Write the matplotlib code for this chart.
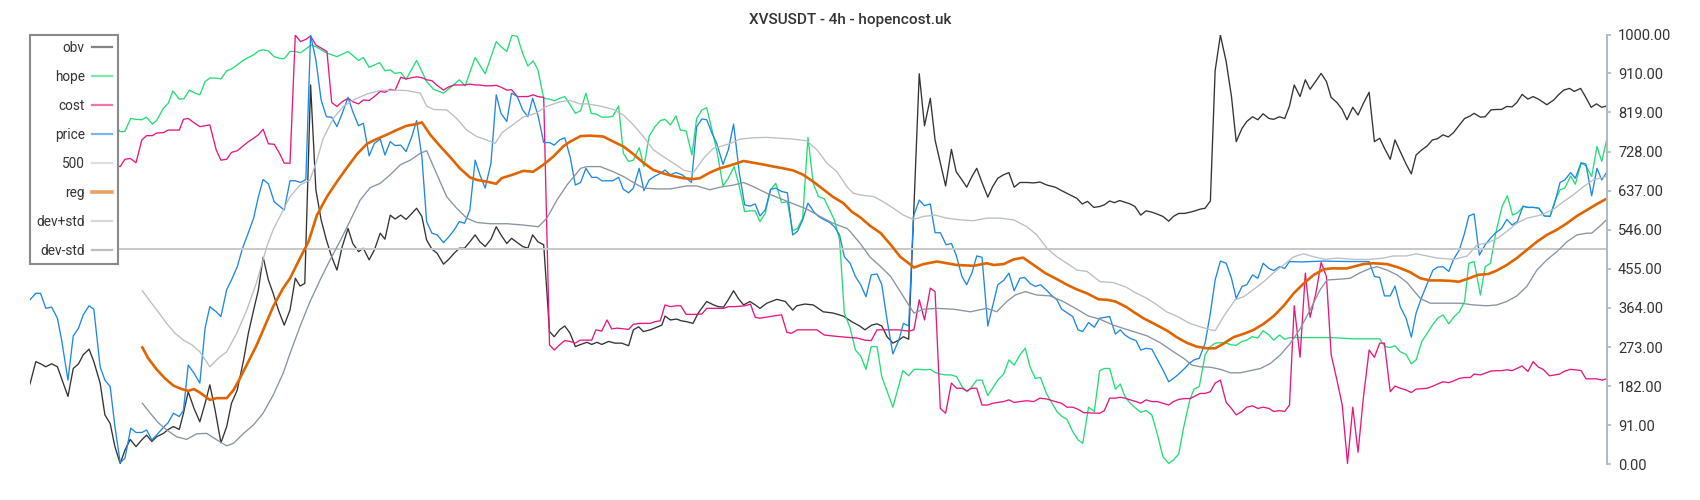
import numpy as np
import matplotlib
matplotlib.use("Agg")
import matplotlib.pyplot as plt

plt.rcParams['font.family'] = ['Roboto', 'DejaVu Sans']

title = 'XVSUSDT - 4h - hopencost.uk'
yticks = [0, 91, 182, 273, 364, 455, 546, 637, 728, 819, 910, 1000]
level = 500

# (bar, value), bar = 4h candle index
obv = [(0.0, 187), (1.1, 239), (2.0, 234), (3.0, 227), (4.1, 234), (5.2, 227), (7.2, 158), (8.2, 223), (9.2, 234),
       (10.1, 255), (11.2, 268), (12.1, 239), (13.3, 189), (14.2, 115), (15.2, 95), (16.1, 41), (17.1, 2), (18.0, 33),
       (19.0, 58), (20.1, 41), (21.2, 57), (22.1, 68), (23.1, 53), (24.0, 64), (25.3, 72), (26.2, 81), (27.2, 88),
       (28.3, 81), (29.1, 119), (30.0, 169), (31.1, 130), (32.2, 99), (33.2, 142), (34.1, 185), (35.1, 126), (36.2, 50),
       (37.3, 88), (38.2, 142), (39.3, 173), (40.5, 243), (41.4, 305), (42.4, 359), (43.3, 406), (44.2, 482), (45.2, 429),
       (46.1, 398), (47.1, 359), (48.2, 324), (49.3, 359), (50.3, 433), (51.2, 415), (52.1, 421), (53.2, 883), (54.2, 639),
       (55.2, 569), (56.2, 522), (57.2, 483), (58.2, 452), (59.2, 507), (60.3, 549), (61.2, 514), (62.3, 495), (63.2, 503),
       (64.3, 476), (65.3, 499), (66.4, 538), (67.3, 524), (68.3, 580), (69.2, 571), (70.3, 580), (71.3, 570), (72.4, 584),
       (73.3, 596), (74.3, 577), (75.2, 522), (76.2, 501), (77.2, 491), (78.4, 466), (79.3, 476), (80.4, 491), (81.4, 503),
       (82.4, 503), (83.4, 518), (84.4, 534), (85.3, 518), (86.3, 507), (87.4, 524), (88.4, 553), (89.3, 534), (90.4, 514),
       (91.3, 526), (92.4, 516), (93.4, 507), (94.4, 503), (95.3, 534), (96.3, 518), (97.4, 511), (98.5, 309), (99.4, 297),
       (100.4, 313), (101.4, 322), (102.4, 305), (103.4, 274), (104.2, 278), (105.6, 284), (106.5, 279), (107.5, 284),
       (108.4, 279), (109.7, 286), (110.9, 282), (112.2, 282), (113.5, 276), (114.4, 313), (115.4, 320), (116.3, 309),
       (117.6, 313), (118.8, 319), (119.8, 324), (120.4, 345), (121.4, 336), (122.6, 338), (123.5, 334), (124.5, 332),
       (125.7, 328), (126.7, 352), (128.3, 379), (129.6, 371), (130.5, 367), (131.5, 366), (132.4, 383), (133.4, 404),
       (134.3, 386), (135.3, 371), (136.5, 379), (137.5, 371), (138.4, 363), (139.7, 375), (141.6, 384), (143.2, 379),
       (144.6, 359), (145.4, 369), (146.9, 373), (148.5, 371), (150.4, 355), (152.3, 352), (154.2, 345), (155.8, 332),
       (157.3, 322), (158.3, 313), (159.6, 324), (160.6, 327), (161.5, 322), (162.5, 297), (163.6, 282), (164.7, 289),
       (165.6, 297), (166.6, 291), (168.6, 909), (169.6, 788), (170.7, 852), (171.6, 755), (172.6, 701), (173.6, 648),
       (174.7, 733), (175.6, 681), (176.7, 662), (177.6, 645), (178.6, 670), (179.5, 689), (180.5, 656), (181.6, 622),
       (182.5, 646), (183.5, 666), (184.6, 674), (185.6, 679), (186.6, 645), (187.7, 656), (189.0, 656), (190.3, 655),
       (191.5, 657), (192.8, 650), (194.4, 645), (195.6, 637), (197.2, 627), (198.5, 619), (199.5, 606), (200.5, 612),
       (201.7, 598), (202.8, 600), (203.7, 604), (204.7, 613), (205.6, 609), (206.6, 614), (207.6, 610), (208.6, 606),
       (209.5, 600), (210.6, 580), (211.6, 590), (212.7, 587), (213.8, 582), (214.8, 577), (215.9, 566), (216.8, 577),
       (217.8, 584), (218.9, 584), (220.0, 587), (220.9, 590), (221.9, 594), (222.8, 596), (223.8, 613), (224.7, 916),
       (225.7, 999), (226.8, 937), (227.8, 856), (228.7, 751), (229.8, 782), (230.7, 798), (231.8, 809), (232.8, 802),
       (233.8, 816), (234.9, 805), (235.8, 803), (236.9, 809), (237.9, 805), (238.8, 834), (239.7, 883), (240.8, 856),
       (241.8, 895), (242.7, 873), (243.8, 892), (244.8, 910), (245.8, 891), (246.7, 854), (247.8, 842), (248.8, 826),
       (249.7, 802), (250.8, 831), (251.8, 813), (252.8, 840), (253.9, 866), (254.9, 751), (255.9, 759), (256.8, 736),
       (257.9, 710), (258.8, 755), (259.8, 728), (260.9, 699), (261.9, 676), (262.8, 720), (263.9, 732), (264.9, 741),
       (265.9, 755), (266.9, 758), (267.9, 767), (268.9, 762), (269.9, 772), (270.9, 788), (272.0, 805), (273.1, 811),
       (273.8, 817), (275.0, 808), (275.9, 809), (277.0, 825), (278.1, 826), (279.0, 826), (280.0, 833), (281.0, 832),
       (281.9, 842), (282.9, 861), (284.0, 850), (285.0, 856), (286.0, 850), (287.6, 837), (288.9, 848), (289.8, 860),
       (290.8, 871), (291.9, 875), (292.8, 868), (294.0, 875), (294.9, 856), (296.0, 831), (297.0, 839), (298.0, 831),
       (298.9, 834)]

hope = [(0.0, 808), (15.4, 802), (17.1, 774), (18.0, 775), (19.1, 805), (20.1, 803), (21.2, 802), (22.1, 808), (23.2, 792),
        (24.0, 800), (25.3, 829), (26.2, 840), (27.1, 869), (28.3, 850), (29.2, 851), (30.2, 871), (31.3, 864), (32.2, 860),
        (33.2, 891), (34.1, 899), (35.3, 899), (36.2, 897), (37.3, 916), (38.2, 920), (39.3, 930), (40.3, 939), (41.4, 947),
        (42.4, 953), (43.3, 962), (44.2, 965), (45.2, 962), (46.3, 949), (47.3, 945), (48.2, 944), (49.3, 961), (50.3, 961),
        (51.3, 958), (53.3, 976), (54.2, 972), (56.3, 957), (58.2, 949), (60.3, 961), (62.3, 940), (63.2, 947), (64.3, 924),
        (66.3, 935), (67.3, 916), (68.3, 918), (69.2, 910), (70.3, 912), (71.3, 896), (73.3, 940), (75.2, 891), (76.5, 873),
        (78.4, 864), (80.3, 883), (81.4, 895), (82.5, 881), (84.4, 947), (86.3, 909), (88.4, 984), (89.3, 972), (90.4, 961),
        (91.4, 999), (92.4, 996), (93.4, 957), (94.4, 927), (95.4, 939), (96.3, 918), (97.4, 852), (98.5, 850), (99.4, 846),
        (100.4, 852), (101.4, 856), (102.4, 837), (103.4, 817), (104.4, 823), (105.4, 864), (106.4, 817), (107.4, 815),
        (108.4, 808), (109.4, 808), (110.5, 810), (111.6, 834), (112.5, 724), (113.5, 705), (114.4, 708), (115.5, 737),
        (116.4, 693), (117.4, 764), (118.5, 786), (119.5, 800), (120.4, 803), (121.4, 790), (122.5, 811), (123.3, 778),
        (124.4, 776), (125.5, 720), (126.4, 805), (127.4, 825), (128.3, 830), (129.3, 778), (130.2, 732), (131.4, 648),
        (132.4, 666), (133.5, 693), (134.5, 646), (135.5, 588), (136.5, 590), (137.5, 590), (138.4, 565), (139.4, 584),
        (140.4, 639), (141.4, 654), (142.5, 609), (143.6, 611), (144.6, 544), (145.5, 549), (146.5, 573), (147.5, 761),
        (148.5, 654), (149.5, 623), (150.6, 618), (151.6, 592), (152.5, 569), (153.5, 522), (154.4, 352), (155.5, 317),
        (156.5, 266), (157.5, 252), (158.5, 221), (159.5, 274), (160.6, 274), (161.5, 204), (163.6, 133), (165.5, 218),
        (166.6, 206), (167.6, 221), (168.6, 221), (169.7, 220), (170.7, 221), (171.6, 214), (172.6, 210), (173.7, 208),
        (174.7, 208), (175.7, 204), (176.7, 181), (177.7, 169), (178.6, 181), (179.5, 196), (180.5, 196), (181.6, 160),
        (182.5, 177), (183.5, 196), (184.6, 210), (185.6, 243), (186.6, 231), (187.7, 255), (188.7, 270), (189.6, 227),
        (190.6, 200), (191.6, 202), (192.7, 165), (194.7, 123), (195.7, 111), (196.6, 105), (197.7, 76), (198.7, 57),
        (199.6, 49), (200.7, 133), (201.8, 123), (202.8, 218), (203.7, 223), (204.7, 223), (205.8, 175), (206.7, 187),
        (207.6, 158), (208.6, 142), (209.7, 130), (210.6, 121), (211.6, 125), (212.7, 115), (213.7, 72), (214.8, 18),
        (215.9, 2), (216.8, 10), (217.8, 24), (218.7, 84), (219.9, 150), (220.7, 175), (221.7, 181), (222.8, 255),
        (223.8, 274), (224.7, 282), (225.7, 283), (226.8, 282), (227.8, 278), (228.7, 277), (229.8, 286), (230.7, 289),
        (231.7, 297), (232.8, 294), (233.8, 311), (234.9, 301), (235.8, 289), (236.9, 301), (237.9, 291), (238.9, 295),
        (246.6, 295), (251.0, 292), (255.9, 292), (256.9, 274), (257.9, 272), (258.8, 276), (259.8, 262), (260.9, 256),
        (261.9, 234), (262.8, 243), (263.9, 286), (264.9, 305), (265.9, 324), (266.9, 340), (267.9, 348), (269.0, 327),
        (269.9, 342), (271.0, 355), (272.0, 379), (272.8, 468), (273.8, 472), (275.0, 394), (275.9, 460), (276.9, 468),
        (277.9, 538), (279.1, 600), (280.1, 625), (281.1, 580), (282.1, 586), (283.1, 600), (284.0, 598), (285.1, 598),
        (286.1, 596), (287.1, 578), (288.2, 577), (289.1, 612), (290.1, 639), (291.0, 643), (292.1, 671), (293.0, 652),
        (294.1, 701), (295.0, 695), (296.1, 670), (297.1, 740), (298.0, 705), (299.0, 759)]

cost = [(0.0, 690), (15.4, 698), (17.1, 693), (18.0, 710), (19.0, 712), (20.1, 702), (21.2, 755), (22.1, 765), (23.2, 765),
        (24.0, 771), (25.3, 772), (26.2, 778), (27.2, 778), (28.3, 778), (29.1, 803), (30.0, 805), (31.1, 795), (32.2, 786),
        (33.2, 788), (34.1, 790), (35.3, 732), (36.2, 708), (37.3, 710), (38.2, 726), (39.3, 730), (40.3, 740), (41.4, 751),
        (42.4, 759), (43.3, 767), (44.2, 780), (45.2, 746), (46.3, 745), (47.3, 724), (48.2, 701), (49.3, 701), (50.3, 999),
        (51.3, 984), (52.3, 989), (53.2, 997), (54.2, 976), (55.3, 968), (56.3, 961), (57.2, 842), (58.2, 833), (59.2, 844),
        (60.3, 852), (61.2, 844), (62.3, 839), (63.2, 848), (64.3, 847), (65.3, 856), (66.4, 868), (67.3, 866), (68.3, 873),
        (69.2, 870), (70.3, 901), (71.3, 897), (72.4, 900), (73.3, 902), (74.3, 900), (75.2, 895), (76.2, 893), (77.1, 883),
        (78.4, 871), (79.3, 878), (80.4, 883), (81.4, 883), (82.4, 883), (83.4, 885), (84.4, 883), (85.3, 883), (86.3, 881),
        (87.4, 881), (88.4, 882), (89.3, 878), (90.4, 871), (91.3, 872), (92.4, 856), (93.4, 856), (94.4, 856), (95.4, 860),
        (96.3, 856), (97.4, 854), (98.5, 278), (99.4, 266), (100.4, 278), (101.4, 288), (102.4, 286), (103.4, 282),
        (104.3, 289), (106.5, 289), (107.3, 313), (108.4, 310), (109.4, 336), (110.3, 315), (111.3, 317), (113.5, 314),
        (114.4, 326), (115.7, 328), (117.6, 328), (118.5, 332), (119.5, 334), (120.4, 371), (121.4, 367), (122.6, 369),
        (123.4, 369), (124.4, 349), (126.4, 349), (127.4, 350), (128.3, 363), (129.6, 363), (131.5, 363), (132.4, 367),
        (133.7, 367), (135.6, 369), (136.6, 373), (137.5, 342), (138.4, 340), (140.3, 344), (142.5, 348), (143.5, 307),
        (144.4, 305), (145.5, 313), (147.3, 313), (149.2, 313), (150.6, 301), (152.0, 299), (153.6, 297), (155.5, 295),
        (156.8, 294), (158.3, 289), (159.5, 288), (160.6, 313), (162.5, 313), (164.7, 313), (166.6, 310), (167.6, 313),
        (168.6, 383), (169.6, 336), (170.7, 410), (171.6, 402), (172.6, 130), (173.6, 119), (174.7, 189), (175.7, 177),
        (176.7, 177), (177.6, 171), (178.6, 177), (179.5, 177), (180.5, 138), (181.6, 138), (182.5, 142), (183.6, 144),
        (184.6, 146), (185.6, 150), (186.6, 144), (187.7, 146), (189.0, 148), (190.3, 146), (191.5, 154), (192.8, 152),
        (194.4, 146), (195.6, 142), (196.6, 133), (197.7, 133), (198.7, 128), (199.8, 120), (200.7, 120), (201.8, 119),
        (202.8, 119), (203.7, 125), (204.7, 154), (205.8, 154), (206.7, 156), (207.6, 154), (208.6, 150), (209.7, 146),
        (210.6, 142), (211.6, 150), (212.7, 146), (213.8, 146), (214.8, 142), (215.9, 138), (216.8, 146), (217.8, 151),
        (218.9, 153), (220.0, 153), (220.9, 159), (221.9, 165), (222.8, 165), (223.8, 169), (224.7, 189), (225.7, 196),
        (226.8, 144), (227.8, 130), (228.7, 115), (229.8, 123), (230.7, 133), (231.8, 136), (232.8, 130), (233.8, 133),
        (234.9, 130), (235.8, 123), (236.9, 125), (237.9, 123), (238.8, 138), (239.7, 369), (240.8, 249), (241.8, 445),
        (242.7, 342), (243.8, 398), (244.8, 470), (245.8, 437), (246.7, 255), (247.8, 196), (248.8, 138), (249.8, 2),
        (250.8, 133), (251.8, 28), (252.8, 154), (253.9, 266), (254.9, 249), (255.9, 282), (256.8, 282), (257.9, 169),
        (258.8, 182), (259.8, 177), (260.9, 173), (261.9, 167), (262.8, 175), (264.9, 177), (266.0, 182), (266.9, 187),
        (267.9, 192), (269.0, 190), (269.9, 194), (271.0, 200), (272.0, 202), (273.1, 202), (273.8, 210), (275.0, 208),
        (275.9, 212), (277.0, 217), (278.1, 218), (279.0, 218), (280.0, 220), (281.0, 218), (281.9, 223), (282.9, 229),
        (284.0, 216), (285.0, 239), (286.0, 226), (286.9, 221), (288.1, 206), (289.0, 208), (290.0, 210), (291.0, 217),
        (292.1, 221), (293.0, 220), (294.1, 218), (295.0, 199), (296.1, 199), (297.0, 199), (298.1, 196), (298.9, 199)]

price = [(0.0, 383), (1.1, 398), (2.0, 398), (3.0, 363), (4.1, 366), (5.2, 340), (6.0, 289), (7.2, 196), (8.2, 299),
         (9.2, 317), (10.1, 348), (11.2, 369), (12.1, 361), (13.3, 227), (14.2, 196), (15.2, 181), (16.1, 88), (17.1, 4),
         (18.0, 14), (19.1, 84), (20.1, 74), (21.2, 74), (22.1, 80), (23.1, 57), (24.0, 68), (25.3, 86), (26.2, 97),
         (27.2, 119), (28.3, 111), (29.1, 126), (30.0, 231), (31.1, 212), (32.2, 189), (33.2, 317), (34.1, 367), (35.3, 355),
         (36.2, 344), (37.3, 407), (38.2, 429), (39.3, 460), (40.3, 503), (41.4, 539), (42.4, 573), (43.3, 623), (44.2, 663),
         (45.2, 653), (46.3, 611), (47.3, 601), (48.2, 592), (49.3, 660), (50.3, 660), (51.3, 656), (52.3, 663), (53.2, 999),
         (54.2, 941), (55.2, 848), (56.2, 809), (57.2, 808), (58.2, 786), (59.2, 817), (60.3, 854), (61.2, 821), (62.3, 788),
         (63.2, 794), (64.3, 718), (65.3, 747), (66.4, 757), (67.3, 720), (68.3, 751), (69.2, 742), (70.3, 743), (71.3, 728),
         (72.4, 763), (73.3, 800), (74.3, 716), (75.2, 565), (76.2, 538), (77.2, 534), (78.4, 516), (79.3, 528), (80.4, 545),
         (81.4, 565), (82.4, 561), (83.4, 592), (84.4, 708), (85.3, 674), (86.3, 643), (87.4, 701), (88.4, 860), (89.3, 817),
         (90.4, 798), (91.3, 864), (92.4, 856), (93.4, 825), (94.4, 809), (95.3, 852), (96.3, 813), (97.4, 749), (98.5, 749),
         (99.4, 743), (100.4, 755), (101.4, 760), (102.4, 716), (103.4, 650), (104.4, 656), (105.4, 689), (106.5, 668),
         (107.5, 668), (108.4, 660), (109.4, 660), (110.5, 660), (111.6, 668), (112.5, 640), (113.5, 632), (114.4, 643),
         (115.5, 689), (116.4, 637), (117.4, 662), (118.5, 671), (119.5, 677), (120.4, 685), (121.4, 674), (122.5, 679),
         (123.6, 674), (124.5, 666), (125.4, 656), (126.4, 786), (127.4, 804), (128.3, 802), (129.3, 771), (130.2, 747),
         (131.4, 698), (132.4, 732), (133.4, 792), (134.5, 677), (135.5, 604), (136.5, 601), (137.5, 606), (138.4, 578),
         (139.4, 592), (140.4, 640), (141.4, 643), (142.5, 635), (143.6, 632), (144.6, 534), (145.5, 542), (146.5, 569),
         (147.5, 608), (148.6, 588), (149.5, 577), (150.6, 569), (151.6, 563), (152.5, 553), (153.5, 534), (154.4, 483),
         (155.5, 468), (156.5, 437), (157.5, 418), (158.5, 390), (159.5, 441), (160.6, 443), (161.5, 418), (162.5, 336),
         (163.6, 257), (164.7, 288), (165.6, 328), (166.6, 322), (167.5, 577), (168.6, 615), (169.6, 602), (170.7, 606),
         (171.6, 539), (172.6, 539), (173.7, 511), (174.7, 514), (175.6, 487), (176.7, 437), (177.6, 418), (178.6, 446),
         (179.5, 485), (180.5, 482), (181.6, 322), (182.5, 367), (183.5, 418), (184.6, 428), (185.6, 445), (186.6, 404),
         (187.7, 433), (188.6, 435), (189.6, 421), (190.6, 414), (191.6, 418), (192.7, 406), (193.6, 394), (194.7, 383),
         (195.6, 361), (196.6, 353), (197.7, 344), (198.7, 313), (199.6, 309), (200.7, 330), (201.8, 319), (202.8, 340),
         (203.7, 342), (204.7, 344), (205.8, 303), (206.7, 313), (207.6, 301), (208.6, 293), (209.7, 288), (210.6, 266),
         (211.6, 270), (212.7, 268), (213.8, 243), (214.8, 220), (215.9, 192), (216.8, 200), (217.8, 210), (218.9, 223),
         (219.8, 235), (220.7, 243), (221.7, 247), (222.8, 282), (223.8, 352), (224.7, 429), (225.7, 473), (226.8, 468),
         (227.8, 433), (228.7, 386), (229.8, 414), (230.7, 418), (231.8, 441), (232.8, 433), (233.8, 468), (234.9, 456),
         (235.8, 451), (236.9, 460), (237.9, 456), (238.8, 472), (241.0, 471), (245.0, 473), (250.0, 472), (253.9, 472),
         (254.9, 437), (255.9, 435), (256.8, 392), (257.9, 392), (258.8, 415), (259.8, 367), (260.9, 340), (261.9, 296),
         (262.8, 352), (263.9, 390), (264.9, 420), (266.0, 452), (266.9, 459), (267.9, 460), (269.0, 449), (269.9, 477),
         (271.0, 499), (272.0, 538), (272.8, 578), (273.8, 583), (274.8, 487), (275.9, 511), (276.9, 526), (277.8, 538),
         (279.0, 549), (280.0, 570), (281.0, 557), (282.0, 565), (283.1, 601), (284.0, 598), (285.1, 598), (286.1, 596),
         (287.1, 578), (288.2, 577), (289.1, 609), (290.1, 656), (291.0, 662), (292.1, 679), (293.0, 666), (294.1, 702),
         (295.0, 699), (296.1, 625), (297.1, 689), (298.0, 662), (299.0, 681)]

reg = [(21.3, 272), (22.4, 247), (24.0, 221), (25.6, 200), (27.2, 183), (28.8, 175), (30.0, 171), (31.1, 175), (32.2, 167),
       (34.1, 150), (35.4, 154), (37.3, 154), (38.6, 173), (39.8, 200), (41.4, 239), (43.0, 278), (44.6, 324), (46.1, 367),
       (48.0, 410), (49.3, 433), (51.2, 480), (52.8, 518), (54.4, 580), (56.3, 623), (58.2, 658), (60.0, 689), (62.0, 722),
       (63.9, 746), (65.7, 757), (67.6, 767), (69.5, 778), (71.4, 788), (73.3, 792), (74.3, 796), (75.9, 767), (77.8, 740),
       (79.6, 716), (81.5, 689), (83.4, 668), (84.7, 662), (86.6, 658), (88.4, 653), (89.4, 666), (91.5, 674), (93.5, 683),
       (95.4, 681), (97.3, 697), (99.2, 716), (101.1, 740), (102.4, 751), (104.4, 764), (106.2, 765), (108.7, 763),
       (110.6, 751), (112.5, 740), (114.4, 722), (116.3, 702), (118.2, 685), (120.1, 677), (121.9, 671), (123.9, 666),
       (125.8, 664), (127.0, 666), (128.9, 679), (130.8, 689), (132.6, 695), (135.3, 706), (137.1, 702), (139.0, 698),
       (141.0, 693), (142.8, 689), (144.7, 684), (146.6, 674), (148.5, 658), (150.4, 640), (152.3, 622), (154.2, 608),
       (155.8, 588), (157.4, 575), (159.3, 555), (161.3, 538), (163.2, 511), (165.0, 483), (166.6, 468), (167.6, 458),
       (169.4, 466), (172.0, 472), (173.8, 468), (175.7, 464), (178.9, 462), (181.4, 468), (182.7, 464), (184.6, 466),
       (186.5, 477), (188.3, 481), (190.3, 464), (192.5, 445), (194.7, 431), (196.6, 418), (198.5, 407), (200.4, 398),
       (202.6, 384), (204.2, 383), (205.8, 379), (207.9, 366), (209.2, 355), (211.1, 340), (213.0, 328), (215.6, 311),
       (217.4, 296), (219.3, 283), (221.2, 274), (223.1, 270), (224.7, 270), (225.9, 278), (228.2, 296), (230.4, 305),
       (232.0, 313), (233.9, 327), (235.8, 345), (237.7, 369), (239.6, 398), (241.5, 421), (243.4, 441), (245.3, 454),
       (246.8, 456), (249.7, 456), (250.9, 460), (252.8, 466), (254.7, 468), (257.3, 466), (259.5, 458), (261.7, 447),
       (263.6, 433), (265.5, 428), (267.4, 428), (269.3, 427), (270.9, 425), (272.4, 431), (274.6, 441), (276.5, 443),
       (278.1, 451), (280.0, 464), (281.9, 480), (283.8, 499), (285.7, 518), (287.6, 534), (289.5, 546), (291.4, 561),
       (293.3, 578), (295.2, 592), (297.1, 606), (298.9, 618)]

dev_plus = [(21.3, 404), (22.8, 379), (24.3, 355), (25.9, 328), (27.5, 305), (29.1, 289), (30.7, 278), (32.2, 262),
            (34.1, 227), (35.7, 247), (37.3, 262), (39.2, 305), (41.1, 359), (43.0, 425), (44.9, 507), (46.1, 546),
            (48.0, 592), (49.3, 623), (51.2, 650), (53.1, 662), (54.4, 708), (55.6, 759), (57.5, 805), (59.4, 833),
            (61.3, 848), (63.9, 862), (66.4, 870), (68.9, 871), (71.4, 870), (74.0, 864), (75.2, 834), (76.5, 826),
            (79.0, 825), (80.9, 805), (82.8, 778), (84.7, 763), (86.6, 755), (88.2, 747), (89.5, 772), (91.5, 790),
            (93.5, 808), (95.9, 817), (97.9, 833), (100.5, 844), (102.4, 847), (104.2, 839), (105.6, 839), (108.1, 834),
            (110.6, 826), (112.5, 813), (114.4, 790), (116.3, 763), (118.2, 732), (120.1, 716), (122.0, 701), (123.9, 685),
            (125.8, 679), (127.7, 712), (129.6, 736), (131.5, 742), (132.8, 747), (134.6, 757), (137.1, 760), (139.6, 761),
            (142.2, 759), (144.7, 757), (147.3, 753), (149.2, 732), (151.1, 701), (153.0, 681), (154.9, 646), (156.1, 631),
            (157.4, 627), (160.0, 623), (161.8, 611), (163.7, 596), (165.6, 580), (167.5, 570), (169.4, 577), (171.6, 580),
            (173.8, 573), (176.3, 569), (178.9, 567), (181.4, 573), (183.9, 573), (186.5, 569), (189.0, 553), (190.9, 534),
            (192.8, 503), (194.7, 483), (196.6, 468), (198.5, 452), (200.4, 449), (202.9, 425), (205.4, 423), (207.9, 412),
            (209.2, 402), (211.8, 386), (213.7, 371), (215.5, 355), (217.4, 345), (219.9, 328), (221.9, 320), (223.8, 313),
            (224.7, 311), (226.3, 344), (228.5, 383), (230.1, 390), (232.0, 407), (233.9, 425), (235.8, 446), (237.7, 464),
            (239.6, 483), (241.5, 490), (243.4, 483), (245.6, 477), (247.8, 480), (251.0, 477), (254.1, 477), (256.6, 480),
            (258.5, 485), (261.0, 485), (262.9, 490), (264.9, 485), (266.8, 480), (270.0, 477), (272.5, 485), (274.4, 511),
            (276.3, 515), (278.2, 526), (280.0, 542), (281.9, 561), (283.8, 573), (286.4, 580), (288.9, 594), (290.8, 612),
            (292.6, 627), (294.5, 646), (296.4, 662), (298.9, 670)]

dev_minus = [(21.3, 142), (22.8, 119), (24.3, 97), (25.9, 80), (27.8, 64), (29.7, 58), (31.6, 71), (33.5, 72), (35.4, 57),
             (37.3, 43), (38.6, 49), (40.5, 72), (42.4, 92), (44.2, 119), (46.1, 161), (48.0, 212), (49.3, 258), (51.2, 321),
             (53.1, 379), (55.0, 429), (56.9, 476), (58.9, 522), (60.8, 570), (62.6, 615), (64.5, 644), (66.4, 654),
             (68.3, 674), (70.2, 697), (72.1, 708), (74.0, 724), (75.2, 730), (76.5, 693), (79.0, 623), (80.9, 596),
             (82.8, 573), (84.7, 563), (87.2, 560), (90.4, 560), (93.5, 557), (96.4, 553), (98.0, 573), (99.9, 615),
             (101.8, 650), (104.4, 689), (105.6, 693), (108.1, 693), (110.6, 681), (112.5, 670), (114.4, 656), (116.3, 643),
             (118.8, 641), (121.4, 641), (124.5, 648), (126.4, 648), (128.9, 639), (130.8, 645), (133.4, 650), (135.3, 656),
             (137.2, 646), (139.7, 631), (142.2, 619), (144.8, 606), (147.3, 594), (149.8, 577), (152.3, 561), (154.9, 549),
             (155.5, 542), (157.4, 514), (159.3, 482), (161.3, 460), (163.2, 437), (165.0, 402), (166.6, 371), (167.6, 352),
             (169.4, 361), (172.0, 363), (175.1, 361), (178.3, 355), (181.4, 363), (183.3, 355), (185.2, 379), (186.8, 394),
             (188.7, 402), (190.9, 394), (193.4, 392), (195.9, 379), (198.5, 361), (200.7, 345), (202.8, 338), (205.4, 324),
             (207.9, 314), (211.8, 299), (214.3, 283), (216.8, 262), (218.7, 247), (220.3, 231), (221.9, 227), (223.8, 226),
             (225.7, 221), (227.6, 213), (229.5, 213), (231.4, 218), (233.3, 223), (235.2, 235), (237.1, 255), (239.0, 282),
             (240.9, 317), (242.7, 359), (244.6, 406), (245.9, 429), (248.4, 431), (250.3, 433), (252.2, 446), (254.1, 456),
             (255.4, 460), (257.3, 452), (259.2, 441), (261.1, 423), (263.6, 386), (265.5, 375), (268.0, 375), (271.2, 375),
             (273.7, 371), (276.2, 369), (278.1, 371), (280.0, 379), (281.9, 392), (283.8, 414), (285.7, 452), (287.6, 476),
             (289.5, 495), (291.4, 518), (293.3, 534), (295.2, 538), (296.1, 538), (297.7, 555), (298.9, 569)]

series = [
    ('obv', obv, '#333333', 0.95),
    ('hope', hope, '#23de74', 0.95),
    ('cost', cost, '#e8177f', 0.95),
    ('price', price, '#1e88e5', 0.95),
]

fig = plt.figure(figsize=(17, 5), dpi=100)
ax = fig.add_axes([30 / 1700, 35.7 / 500, 1577 / 1700, 429.6 / 500])

for name, pts, color, lw in series:
    x, y = np.array(pts).T
    ax.plot(x, y, color=color, lw=lw, label=name)

ax.axhline(level, color='#c8c8c8', lw=1.4, label='500')
x, y = np.array(reg).T
ax.plot(x, y, color='#e06400', lw=1.9, label='reg')
x, y = np.array(dev_plus).T
ax.plot(x, y, color='#b9bfc5', lw=0.95, label='dev+std')
x, y = np.array(dev_minus).T
ax.plot(x, y, color='#8794a1', lw=0.95, label='dev-std')

ax.set_xlim(0, 299)
ax.set_ylim(0, 1000)
ax.set_xticks([])
ax.set_yticks(yticks)
ax.set_yticklabels([f'{t:.2f}' for t in yticks])
ax.yaxis.tick_right()
ax.tick_params(axis='y', direction='out', length=3, width=1.2, color='#b0bac2',
               labelsize=10.5, labelcolor='#333333', pad=5)
for s in ['left', 'top', 'bottom']:
    ax.spines[s].set_visible(False)
ax.spines['right'].set_color('#b0bac2')
ax.spines['right'].set_linewidth(1.4)

leg = ax.legend(loc='upper left', bbox_to_anchor=(0, 1), borderaxespad=0, markerfirst=False,
                fontsize=9.8, labelspacing=1.1, handlelength=1.5, handletextpad=0.5,
                borderpad=0.45, fancybox=False, framealpha=1, edgecolor='#8a8a8a')
leg.get_frame().set_linewidth(1.5)
for t in leg.get_texts():
    t.set_color('#333333')
for h in leg.get_lines():
    h.set_alpha(0.6)
    h.set_linewidth(2.6 if h.get_label() == 'reg' else 1.6)

fig.suptitle(title, y=0.96, va='center', fontsize=11, color='#333333', fontweight='medium')

fig.savefig('out.png', dpi=100, facecolor='white')
